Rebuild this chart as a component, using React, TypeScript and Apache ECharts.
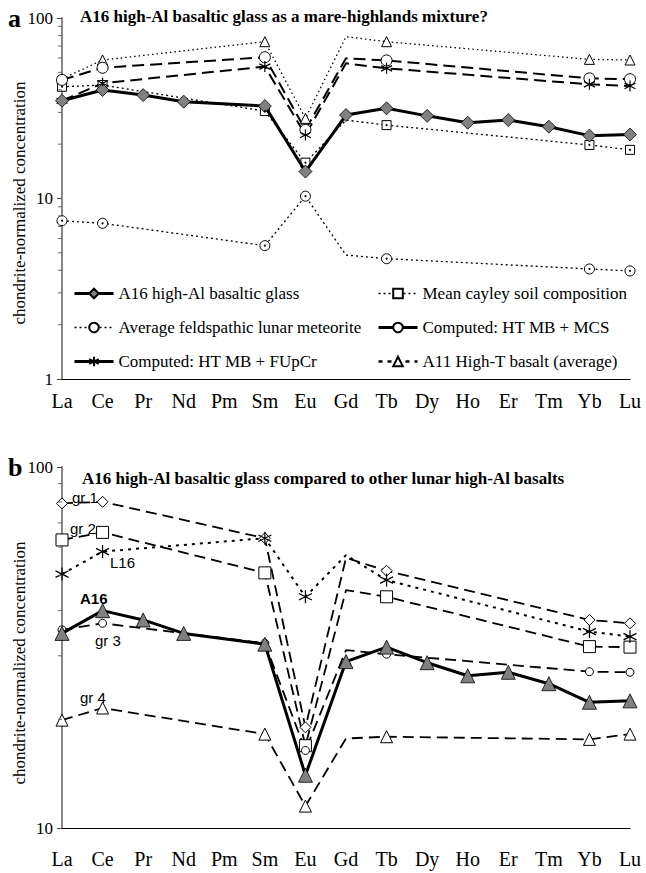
import React, { useEffect, useRef } from "react";
import * as echarts from "echarts";

const categories = ["La", "Ce", "Pr", "Nd", "Pm", "Sm", "Eu", "Gd", "Tb", "Dy", "Ho", "Er", "Tm", "Yb", "Lu"];

// Panel a
const glassA = [34.8, 39.9, 37.4, 34.4, null, 32.5, 14.1, 29.0, 31.6, 28.7, 26.3, 27.2, 25.0, 22.3, 22.6];
const cayleySoil = [41.6, 42.5, null, null, null, 30.5, 15.8, 27.2, 25.5, null, null, null, null, 19.8, 18.6];
const feldspathic = [7.53, 7.29, null, null, null, 5.48, 10.3, 4.86, 4.64, null, null, null, null, 4.07, 3.97];
const htMbMcs = [45.4, 53.0, null, null, null, 60.6, 24.0, 59.8, 58.2, null, null, null, null, 46.3, 45.8];
const htMbFupcr = [34.8, 43.5, null, null, null, 53.8, 22.5, 56.1, 52.6, null, null, null, null, 42.9, 42.0];
const a11HighT = [46.0, 58.5, null, null, null, 73.9, 27.8, 78.8, 73.9, null, null, null, null, 59.0, 58.5];

// Panel b
const gr1 = [79.3, 80.1, null, null, null, 63.5, 19.0, 56.0, 51.6, null, null, null, null, 37.7, 36.9];
const gr2 = [62.8, 65.9, null, null, null, 50.9, 16.9, 45.6, 43.7, null, null, null, null, 31.8, 31.7];
const l16 = [50.5, 58.3, null, null, null, 63.5, 43.7, 57.0, 48.6, null, null, null, null, 35.0, 33.9];
const gr3 = [35.4, 36.9, null, null, null, 32.5, 16.4, 31.1, 30.3, null, null, null, null, 27.1, 27.0];
const a16b = [34.6, 40.0, 37.7, 34.6, null, 32.3, 14.0, 28.9, 31.7, 28.7, 26.4, 27.0, 25.1, 22.3, 22.5];
const gr4 = [19.9, 21.5, null, null, null, 18.2, 11.5, 17.7, 17.9, null, null, null, null, 17.6, 18.2];

const minorTicksA = [2, 3, 4, 5, 6, 7, 8, 9, 20, 30, 40, 50, 60, 70, 80, 90];
const minorTicksB = [20, 30, 40, 50, 60, 70, 80, 90];

const SERIF = "'Liberation Serif', 'Times New Roman', serif";
const SANS = "'Liberation Sans', Arial, sans-serif";
const STAR = "path://M5,0L5,10M0.7,2.5L9.3,7.5M0.7,7.5L9.3,2.5";

function build(vals: (number | null)[], gdMarker: boolean) {
  return vals.map((v, i) => {
    if (v === null) return "-";
    if (categories[i] === "Gd" && !gdMarker) return { value: v, symbol: "none" };
    return v;
  });
}

function lineSeries(name: string, vals: (number | null)[], idx: number, o: any) {
  return {
    type: "line",
    name,
    xAxisIndex: idx,
    yAxisIndex: idx,
    data: build(vals, !!o.gdMarker),
    connectNulls: true,
    symbol: o.symbol,
    symbolSize: o.size,
    z: o.z || 2,
    lineStyle: { color: "#000", width: o.width, type: o.type },
    itemStyle: {
      color: o.fill || "#fff",
      borderColor: "#000",
      borderWidth: o.bw || 1,
    },
  };
}

function dotSeries(key: string, vals: (number | null)[], idx: number) {
  return {
    type: "line",
    name: "_dots_" + key,
    xAxisIndex: idx,
    yAxisIndex: idx,
    data: build(vals, false),
    connectNulls: true,
    symbol: "circle",
    symbolSize: 2,
    z: 5,
    silent: true,
    lineStyle: { width: 0, opacity: 0 },
    itemStyle: { color: "#000", borderWidth: 0 },
  };
}

function minorTickSeries(vals: number[], idx: number) {
  return {
    type: "custom",
    xAxisIndex: idx,
    yAxisIndex: idx,
    clip: false,
    silent: true,
    z: 10,
    data: vals.map((v) => [0, v]),
    encode: { x: 0, y: 1 },
    renderItem: (params: any, api: any) => {
      const p = api.coord([0, api.value(1)]);
      return {
        type: "line",
        shape: { x1: p[0] - 4, y1: p[1], x2: p[0], y2: p[1] },
        style: { stroke: "#666", lineWidth: 1 },
      };
    },
  };
}

function xAxis(gridIndex: number, margin: number) {
  return {
    type: "category",
    gridIndex,
    data: categories,
    boundaryGap: false,
    axisLine: { show: true, lineStyle: { color: "#000", width: 1 } },
    axisTick: { show: false },
    axisLabel: { color: "#000", fontFamily: SERIF, fontSize: 20, margin, interval: 0 },
    splitLine: { show: false },
  };
}

function yAxis(gridIndex: number, min: number, max: number) {
  return {
    type: "log",
    logBase: 10,
    gridIndex,
    min,
    max,
    axisLine: { show: true, lineStyle: { color: "#888", width: 2 } },
    axisTick: { show: true, length: 5, lineStyle: { color: "#444", width: 1 } },
    axisLabel: { color: "#000", fontFamily: SERIF, fontSize: 17, margin: 9 },
    splitLine: { show: false },
  };
}

const legendText = { fontFamily: SERIF, fontSize: 17, color: "#000", lineHeight: 17 };

function txt(x: number, y: number, text: string, size: number, family: string, weight: string, extra: any = {}) {
  return {
    type: "text",
    x,
    y,
    ...extra,
    style: {
      text,
      fontFamily: family,
      fontSize: size,
      fontWeight: weight,
      fill: "#000",
      textVerticalAlign: "middle",
      ...(extra.style || {}),
    },
  };
}

export default function App() {
  const ref = useRef<HTMLDivElement>(null);
  useEffect(() => {
    const chart = echarts.init(ref.current!, null, { renderer: "svg" });
    const option: any = {
      animation: false,
      backgroundColor: "#fff",
      grid: [
        { left: 62, right: 16, top: 18, height: 361 },
        { left: 62, right: 16, top: 467, height: 361 },
      ],
      xAxis: [xAxis(0, 12), xAxis(1, 21)],
      yAxis: [yAxis(0, 1, 100), yAxis(1, 10, 100)],
      legend: [
        {
          orient: "vertical",
          left: 73,
          top: 285,
          padding: 0,
          itemWidth: 39,
          itemHeight: 12,
          itemGap: 17,
          textStyle: legendText,
          data: [
            { name: "A16 high-Al basaltic glass", lineStyle: { type: "solid", width: 3 } },
            { name: "Average feldspathic lunar meteorite", lineStyle: { type: [2, 3], width: 1.3 } },
            { name: "Computed: HT MB + FUpCr", lineStyle: { type: "solid", width: 3 } },
          ],
        },
        {
          orient: "vertical",
          left: 377,
          top: 285,
          padding: 0,
          itemWidth: 39,
          itemHeight: 12,
          itemGap: 17,
          textStyle: legendText,
          data: [
            { name: "Mean cayley soil composition", lineStyle: { type: [2, 3], width: 1.3 } },
            { name: "Computed: HT MB + MCS", lineStyle: { type: "solid", width: 3 } },
            { name: "A11 High-T basalt (average)", lineStyle: { type: [4, 5], width: 2.5 } },
          ],
        },
      ],
      graphic: [
        txt(8, 18, "a", 26, SERIF, "bold"),
        txt(8, 467, "b", 26, SERIF, "bold"),
        txt(80, 16, "A16 high-Al basaltic glass as a mare-highlands mixture?", 17, SERIF, "bold"),
        txt(82, 478, "A16 high-Al basaltic glass compared to other lunar high-Al basalts", 17, SERIF, "bold"),
        txt(19, 203, "chondrite-normalized concentration", 17, SERIF, "normal", { rotation: Math.PI / 2, style: { textAlign: "center" } }),
        txt(19, 663, "chondrite-normalized concentration", 17, SERIF, "normal", { rotation: Math.PI / 2, style: { textAlign: "center" } }),
        txt(72, 497, "gr 1", 15, SANS, "normal"),
        txt(70, 528, "gr 2", 15, SANS, "normal"),
        txt(110, 562, "L16", 15, SANS, "normal"),
        txt(80, 598, "A16", 15, SANS, "bold"),
        txt(95, 640, "gr 3", 15, SANS, "normal"),
        txt(80, 697, "gr 4", 15, SANS, "normal"),
      ],
      series: [
        lineSeries("Mean cayley soil composition", cayleySoil, 0, { symbol: "rect", size: 9, width: 1.3, type: [2, 3] }),
        lineSeries("Average feldspathic lunar meteorite", feldspathic, 0, { symbol: "circle", size: 10, width: 1.3, type: [2, 3] }),
        lineSeries("A11 High-T basalt (average)", a11HighT, 0, { symbol: "triangle", size: 10, width: 1.3, type: [1.5, 3] }),
        lineSeries("Computed: HT MB + MCS", htMbMcs, 0, { symbol: "circle", size: 11, width: 2, type: [12, 6] }),
        lineSeries("Computed: HT MB + FUpCr", htMbFupcr, 0, { symbol: STAR, size: 11, width: 2, type: [12, 6], fill: "transparent", bw: 1.2 }),
        lineSeries("A16 high-Al basaltic glass", glassA, 0, { symbol: "diamond", size: 13, width: 3, type: "solid", fill: "#808080", gdMarker: true, z: 4, bw: 0.8 }),
        dotSeries("cayley", cayleySoil, 0),
        dotSeries("feld", feldspathic, 0),
        minorTickSeries(minorTicksA, 0),

        lineSeries("gr 1", gr1, 1, { symbol: "diamond", size: 11, width: 1.8, type: [11, 6] }),
        lineSeries("gr 2", gr2, 1, { symbol: "rect", size: 12, width: 1.8, type: [11, 6] }),
        lineSeries("L16", l16, 1, { symbol: STAR, size: 13, width: 2, type: [3, 5], fill: "transparent", bw: 1.2 }),
        lineSeries("gr 3", gr3, 1, { symbol: "circle", size: 8, width: 1.8, type: [11, 6] }),
        lineSeries("gr 4", gr4, 1, { symbol: "triangle", size: 12, width: 1.8, type: [11, 6] }),
        lineSeries("A16", a16b, 1, { symbol: "triangle", size: 14, width: 3, type: "solid", fill: "#808080", gdMarker: true, z: 4, bw: 0.8 }),
        minorTickSeries(minorTicksB, 1),
      ],
    };
    chart.setOption(option);
    return () => chart.dispose();
  }, []);
  return <div ref={ref} style={{ position: "absolute", left: 0, top: 0, width: 646, height: 873 }} />;
}
